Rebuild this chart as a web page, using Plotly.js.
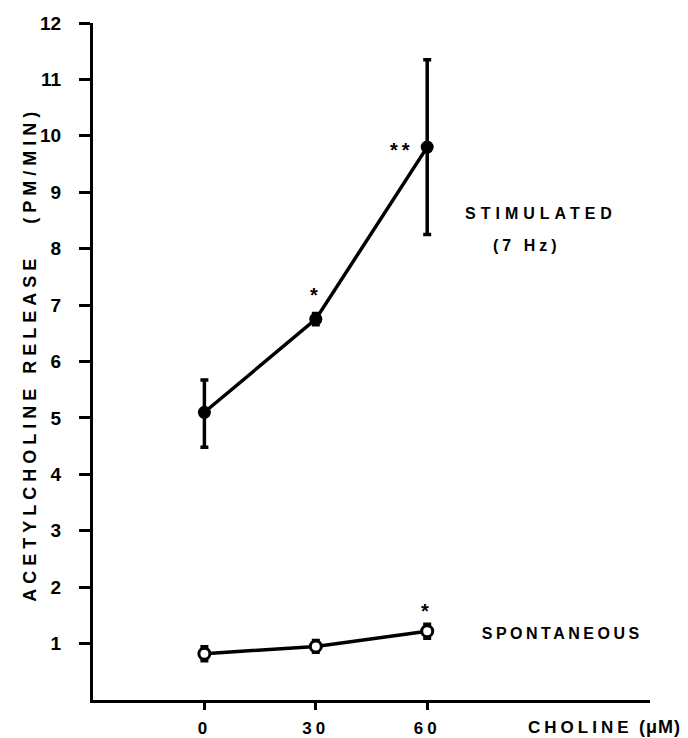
<!DOCTYPE html>
<html>
<head>
<meta charset="utf-8">
<script src="https://cdn.plot.ly/plotly-3.0.1.min.js"></script>
<style>
  html, body { margin: 0; padding: 0; background: #fff; }
  #chart { width: 688px; height: 738px; }
  .annotation-text { letter-spacing: 4px; }
  .annotation[data-index="0"] .annotation-text { letter-spacing: 5px; }
  .annotation[data-index="1"] .annotation-text { letter-spacing: 5px; }
  .annotation[data-index="3"] .annotation-text { letter-spacing: 3.5px; }
  .annotation[data-index="5"] .annotation-text { letter-spacing: 1px; }
  .xtick text { letter-spacing: 4px; }
</style>
</head>
<body>
<div id="chart"></div>
<script>
// Data
const cholineDose = [0, 30, 60];                 // µM
const stimulatedMean = [5.1, 6.75, 9.8];         // pmol/min
const stimulatedErrPlus = [0.57, 0.1, 1.55];
const stimulatedErrMinus = [0.62, 0.1, 1.55];
const spontaneousMean = [0.82, 0.95, 1.22];
const spontaneousErr = [0.12, 0.1, 0.12];
const yTickVals = [1, 2, 3, 4, 5, 6, 7, 8, 9, 10, 11, 12];
const xTickVals = [0, 30, 60];

const FONT = 'Liberation Sans, Arial, sans-serif';

const traces = [
  {
    x: cholineDose, y: stimulatedMean, type: 'scatter', mode: 'lines+markers',
    line: { color: '#000', width: 3.5 },
    marker: { color: '#000', size: 13, symbol: 'circle' },
    error_y: { type: 'data', symmetric: false, array: stimulatedErrPlus,
               arrayminus: stimulatedErrMinus, color: '#000', thickness: 3.5, width: 4 },
    showlegend: false, hoverinfo: 'skip'
  },
  {
    x: cholineDose, y: spontaneousMean, type: 'scatter', mode: 'lines+markers',
    line: { color: '#000', width: 3.5 },
    marker: { color: '#fff', size: 11, symbol: 'circle', line: { color: '#000', width: 3 } },
    error_y: { type: 'data', array: spontaneousErr, color: '#000', thickness: 4, width: 4 },
    showlegend: false, hoverinfo: 'skip'
  }
];

const annFont = { family: FONT, size: 16, color: '#000', weight: 'bold' };
const starFont = { family: FONT, size: 20, color: '#000', weight: 'bold' };

function ann(text, xref, yref, x, y, font, extra) {
  return Object.assign({ text, xref, yref, x, y, xanchor: 'center', yanchor: 'middle',
                         showarrow: false, font }, extra || {});
}

const layout = {
  width: 688, height: 738,
  margin: { l: 93, r: 38, t: 23, b: 38 },
  paper_bgcolor: '#fff', plot_bgcolor: '#fff',
  xaxis: {
    range: [-30, 120], showgrid: false, zeroline: false,
    showline: true, linecolor: '#000', linewidth: 3,
    tickvals: xTickVals, ticktext: xTickVals.map(String),
    ticks: 'outside', ticklen: 7, tickwidth: 3, tickcolor: '#000',
    ticklabelstandoff: 4,
    tickfont: { family: FONT, size: 17, color: '#000', weight: 'bold' }
  },
  yaxis: {
    range: [0, 12], showgrid: false, zeroline: false,
    showline: true, linecolor: '#000', linewidth: 3,
    tickvals: yTickVals, ticktext: yTickVals.map(String),
    ticks: 'outside', ticklen: 11, tickwidth: 3, tickcolor: '#000',
    ticklabelstandoff: 14,
    tickfont: { family: FONT, size: 19, color: '#000', weight: 'bold' }
  },
  annotations: [
    ann('ACETYLCHOLINE RELEASE   (PM/MIN)', 'paper', 'paper', -0.113, 0.51,
        { family: FONT, size: 18, color: '#000', weight: 'bold' }, { textangle: -90 }),
    ann('STIMULATED', 'x', 'y', 90.6, 8.63, annFont),
    ann('(7 Hz)', 'x', 'y', 86.9, 8.06, annFont),
    ann('SPONTANEOUS', 'x', 'y', 96.3, 1.17, annFont),
    ann('CHOLINE', 'paper', 'paper', 0.876, -0.04,
        { family: FONT, size: 17, color: '#000', weight: 'bold' }),
    ann('(μM)', 'paper', 'paper', 1.018, -0.04,
        { family: FONT, size: 18, color: '#000', weight: 'bold' }),
    ann('*', 'x', 'y', 30, 7.18, starFont),
    ann('**', 'x', 'y', 53.2, 9.75, starFont),
    ann('*', 'x', 'y', 60, 1.57, starFont)
  ]
};

Plotly.newPlot('chart', traces, layout, { staticPlot: true, displayModeBar: false });
</script>
</body>
</html>
